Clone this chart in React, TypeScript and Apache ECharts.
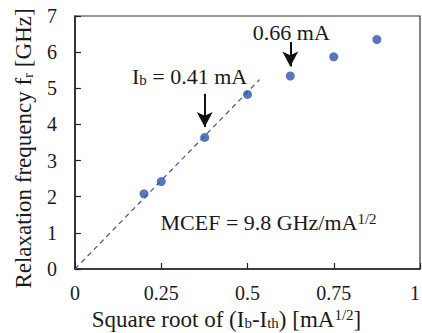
import React, { useEffect, useRef } from "react";
import * as echarts from "echarts";

// Measured points: x = sqrt(Ib - Ith) [mA^1/2], y = relaxation frequency [GHz]
const xValues = [0.2, 0.25, 0.376, 0.5, 0.624, 0.75, 0.875];
const yValues = [2.08, 2.42, 3.64, 4.83, 5.34, 5.87, 6.35];

// Linear fit (MCEF slope) through the origin
const fitX = [0, 0.535];
const fitY = [0, 5.24];

// Arrows: [x, yStart, yEnd]
const arrows = [
  [0.376, 4.85, 3.93],
  [0.624, 6.28, 5.6],
];

// Annotation labels: [x, y, text]
const annotations: [number, number, string][] = [
  [0.332, 5.33, "{a|I}{s|b}{a| = 0.41 mA}"],
  [0.627, 6.54, "{a|0.66 mA}"],
  [0.561, 1.3, "{a|MCEF = 9.8 GHz/mA}{p|1/2}"],
];

const xTicks = { min: 0, max: 1, interval: 0.25 };
const yTicks = { min: 0, max: 7, interval: 1 };

const FONT = "Liberation Serif";
const FS = 20;
const AFS = 22;
const NFS = 23;
const mkRich = (fs: number) => ({
  a: { fontFamily: FONT, fontSize: fs, color: "#1a1a1a" },
  s: { fontFamily: FONT, fontSize: Math.round(fs * 0.66), color: "#1a1a1a", verticalAlign: "bottom" as const },
  p: { fontFamily: FONT, fontSize: Math.round(fs * 0.66), color: "#1a1a1a", verticalAlign: "top" as const },
});

export default function App() {
  const ref = useRef<HTMLDivElement>(null);
  useEffect(() => {
    if (!ref.current) return;
    const chart = echarts.init(ref.current, undefined, { renderer: "svg" });
    const blue = "#3153a8";
    const axisLine = { show: true, lineStyle: { color: "#222", width: 1.6 } };
    chart.setOption({
      animation: false,
      backgroundColor: "#ffffff",
      textStyle: { fontFamily: FONT },
      grid: {
        left: 75,
        right: 2,
        top: 16,
        bottom: 64,
        show: true,
        borderColor: "#333",
        borderWidth: 1.2,
        containLabel: false,
        outerBoundsMode: "none",
      },
      xAxis: {
        type: "value",
        ...xTicks,
        axisLine,
        axisTick: { show: true, inside: true, length: 6, lineStyle: { color: "#222", width: 1.2 } },
        splitLine: { show: false },
        axisLabel: { fontFamily: FONT, fontSize: FS, color: "#1a1a1a", margin: 14, alignMaxLabel: "right" },
        name: "{a|Square root of (I}{s|b}{a|-I}{s|th}{a|) [mA}{p|1/2}{a|]}",
        nameLocation: "middle",
        nameGap: 33,
        nameTextStyle: { fontFamily: FONT, rich: mkRich(NFS), padding: [0, 42, 0, 0] },
      },
      yAxis: {
        type: "value",
        ...yTicks,
        axisLine,
        axisTick: { show: true, inside: true, length: 6, lineStyle: { color: "#222", width: 1.2 } },
        splitLine: { show: false },
        axisLabel: { fontFamily: FONT, fontSize: FS, color: "#1a1a1a", margin: 18 },
        name: "{a|Relaxation frequency f}{s|r}{a| [GHz]}",
        nameLocation: "middle",
        nameGap: 40,
        nameTextStyle: { fontFamily: FONT, rich: mkRich(NFS), padding: [0, 12, 0, 0] },
      },
      series: [
        {
          type: "line",
          data: fitX.map((x, i) => [x, fitY[i]]),
          showSymbol: false,
          symbol: "none",
          lineStyle: { color: blue, width: 1.2, type: [5, 4] },
          silent: true,
          z: 1,
        },
        {
          type: "scatter",
          data: xValues.map((x, i) => [x, yValues[i]]),
          symbol: "circle",
          symbolSize: 9,
          itemStyle: { color: blue },
          z: 3,
          markLine: {
            silent: true,
            symbol: ["none", "arrow"],
            symbolSize: [12, 15],
            lineStyle: { color: "#111", width: 2, type: "solid" },
            label: { show: false },
            data: arrows.map(([x, y0, y1]) => [
              { coord: [x, y0] },
              { coord: [x, y1] },
            ]),
          },
          markPoint: {
            silent: true,
            symbol: "circle",
            symbolSize: 0,
            itemStyle: { color: "transparent" },
            label: { show: true, position: "inside" },
            data: annotations.map(([x, y, text]) => ({
              coord: [x, y],
              label: {
                show: true,
                position: "inside",
                formatter: text,
                fontFamily: FONT,
                textBorderWidth: 0,
                rich: mkRich(AFS),
              },
            })),
          },
        },
      ],
    });
    return () => chart.dispose();
  }, []);
  return (
    <div
      ref={ref}
      style={{ position: "fixed", left: 0, top: 0, width: 422, height: 333, background: "#fff" }}
    />
  );
}
